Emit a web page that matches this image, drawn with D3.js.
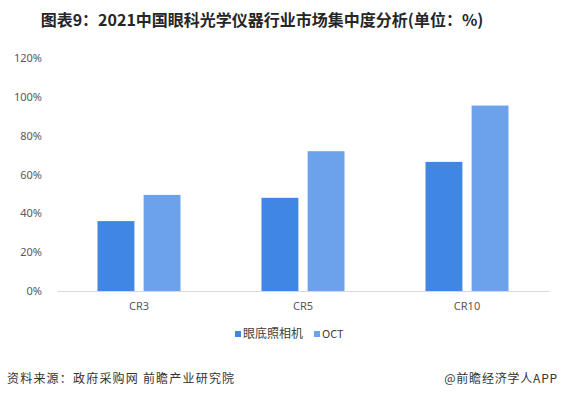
<!DOCTYPE html>
<html>
<head>
<meta charset="utf-8">
<script src="https://cdn.jsdelivr.net/npm/d3@7"></script>
<style>
  body { margin: 0; background: #fff; }
  svg { font-family: "Microsoft YaHei", "Noto Sans CJK SC", sans-serif; }
</style>
</head>
<body>
<div id="chart"></div>
<script>
// chart size
var w = 561;
var h = 398;

var categories = ["CR3", "CR5", "CR10"];
var seriesNames = ["眼底照相机", "OCT"];
var fundus = [36, 48, 66.5];
var oct = [49.5, 72, 95.5];
var yTicks = [0, 20, 40, 60, 80, 100, 120];

var colors = ["#4086E3", "#6CA2EB"];

var svg = d3.select("#chart")
  .append("svg")
  .attr("width", w)
  .attr("height", h);

// title
svg.append("text")
  .attr("x", 262)
  .attr("y", 26)
  .attr("text-anchor", "middle")
  .attr("font-size", 16)
  .attr("font-weight", "bold")
  .attr("fill", "#262626")
  .text("图表9：2021中国眼科光学仪器行业市场集中度分析(单位：%)");

var x0 = d3.scaleBand()
  .domain(categories)
  .range([57, 549]);

var x1 = d3.scaleBand()
  .domain(seriesNames)
  .range([0, 83])
  .paddingInner(0.2);

var y = d3.scaleLinear()
  .domain([0, 120])
  .range([291, 58]);

// y axis labels
var yAxis = svg.append("g")
  .attr("transform", "translate(45,0)")
  .call(d3.axisLeft(y).tickValues(yTicks).tickSize(0).tickFormat(function (d) { return d + "%"; }));
yAxis.select(".domain").remove();
yAxis.selectAll("text")
  .attr("font-size", 11)
  .attr("fill", "#595959")
  .attr("font-family", "Microsoft YaHei, Noto Sans, sans-serif");

// bars
var groups = svg.selectAll("g.cat")
  .data(categories)
  .enter()
  .append("g")
  .attr("class", "cat")
  .attr("transform", function (d) {
    return "translate(" + (x0(d) + x0.bandwidth() / 2 - 41.5) + ",0)";
  });

groups.selectAll("rect")
  .data(function (d, i) {
    return [
      { name: seriesNames[0], value: fundus[i] },
      { name: seriesNames[1], value: oct[i] }
    ];
  })
  .enter()
  .append("rect")
  .attr("x", function (d) { return x1(d.name); })
  .attr("y", function (d) { return y(d.value); })
  .attr("width", x1.bandwidth())
  .attr("height", function (d) { return y(0) - y(d.value); })
  .attr("fill", function (d, i) { return colors[i]; });

// x axis
var xAxis = svg.append("g")
  .attr("transform", "translate(0," + y(0) + ")")
  .call(d3.axisBottom(x0).tickSize(0).tickPadding(11));
xAxis.select(".domain").attr("stroke", "#d9d9d9");
xAxis.selectAll("text")
  .attr("font-size", 11)
  .attr("fill", "#595959")
  .attr("font-family", "Microsoft YaHei, Noto Sans, sans-serif");

// legend
var legend = svg.append("g")
  .attr("transform", "translate(0,334)");
var lx = [235, 314];
var lsize = [12, 11];
seriesNames.forEach(function (s, i) {
  legend.append("rect")
    .attr("x", lx[i])
    .attr("y", -3)
    .attr("width", 6)
    .attr("height", 6)
    .attr("fill", colors[i]);
  legend.append("text")
    .attr("x", lx[i] + 8)
    .attr("y", 0)
    .attr("dy", "0.35em")
    .attr("font-size", lsize[i])
    .attr("fill", "#404040")
    .text(s);
});

// footer
svg.append("text")
  .attr("x", 7)
  .attr("y", 383)
  .attr("font-size", 12)
  .attr("letter-spacing", 1.2)
  .attr("fill", "#333")
  .text("资料来源：政府采购网 前瞻产业研究院");

svg.append("text")
  .attr("x", 558)
  .attr("y", 383)
  .attr("text-anchor", "end")
  .attr("font-size", 12)
  .attr("letter-spacing", 0.8)
  .attr("fill", "#333")
  .text("@前瞻经济学人APP");
</script>
</body>
</html>
